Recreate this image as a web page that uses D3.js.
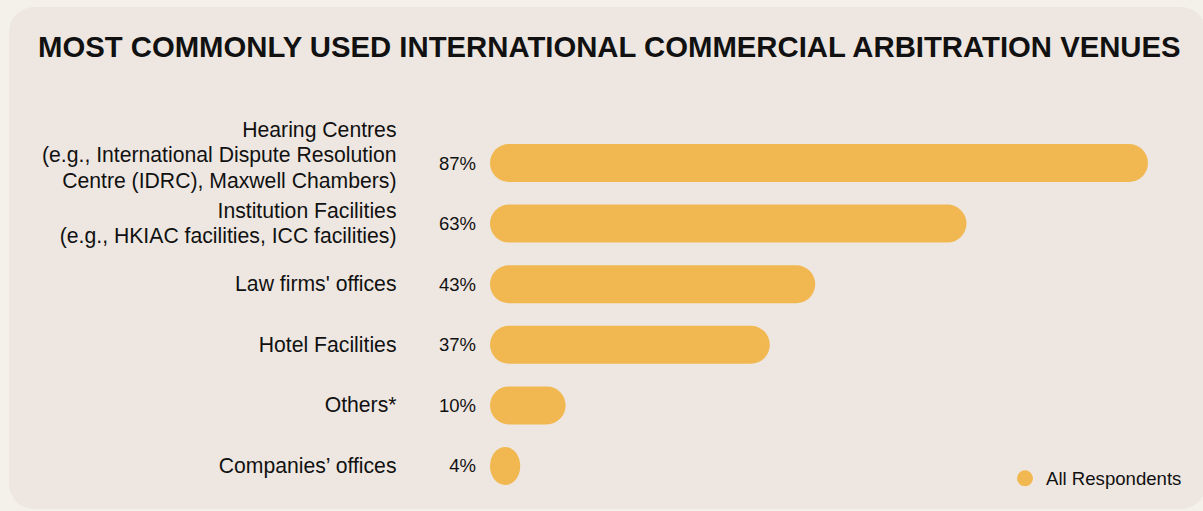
<!DOCTYPE html>
<html>
<head>
<meta charset="utf-8">
<script src="https://cdn.jsdelivr.net/npm/d3@7"></script>
<style>
  html, body { margin: 0; padding: 0; background: #f4f1eb; }
  svg { display: block; }
  text { font-family: "Liberation Sans", Arial, Helvetica, sans-serif; fill: #111; }
</style>
</head>
<body>
<svg id="chart" width="1203" height="511"></svg>
<script>
// Venue categories (label lines) and share of respondents (%)
const categories = [
  "Hearing Centres",
  "Institution Facilities",
  "Law firms' offices",
  "Hotel Facilities",
  "Others*",
  "Companies’ offices"
];
const labelLines = [
  ["Hearing Centres", "(e.g., International Dispute Resolution", "Centre (IDRC), Maxwell Chambers)"],
  ["Institution Facilities", "(e.g., HKIAC facilities, ICC facilities)"],
  ["Law firms' offices"],
  ["Hotel Facilities"],
  ["Others*"],
  ["Companies’ offices"]
];
const values = [87, 63, 43, 37, 10, 4];
const seriesName = "All Respondents";
const title = "MOST COMMONLY USED INTERNATIONAL COMMERCIAL ARBITRATION VENUES";

const barColor = "#f1b851";
const svg = d3.select("#chart");

// Rounded background panel
svg.append("rect")
  .attr("x", 9).attr("y", 7)
  .attr("width", 1197).attr("height", 502)
  .attr("rx", 25).attr("ry", 25)
  .attr("fill", "#eee7e1");

// Title, fitted to its column width
const titleText = svg.append("text")
  .attr("x", 38).attr("y", 57)
  .attr("font-weight", "bold")
  .attr("font-size", 29)
  .text(title);
const tw = titleText.node().getComputedTextLength();
titleText.attr("font-size", 29 * 1143 / tw);

// Scales
const x = d3.scaleLinear().domain([0, 100]).range([490, 1246.3]);
const y = d3.scaleBand()
  .domain(categories)
  .range([121.4, 507.6])
  .paddingInner(0.373)
  .paddingOuter(0.373);

const bh = y.bandwidth();
const rows = svg.append("g").selectAll("g")
  .data(categories)
  .join("g");

// Pill-shaped bars
rows.append("rect")
  .attr("x", x(0))
  .attr("y", d => y(d))
  .attr("width", (d, i) => x(values[i]) - x(0))
  .attr("height", bh)
  .attr("rx", bh / 2).attr("ry", bh / 2)
  .attr("fill", barColor);

// Value labels
rows.append("text")
  .attr("x", 476)
  .attr("y", d => y(d) + bh / 2 + 6.5)
  .attr("text-anchor", "end")
  .attr("font-size", 18.5)
  .attr("fill", "#222")
  .text((d, i) => values[i] + "%");

// Category labels (multi-line, right aligned)
const lineH = 25.5;
rows.append("text")
  .attr("text-anchor", "end")
  .attr("font-size", 21.2)
  .each(function(d, i) {
    const lines = labelLines[i];
    const n = lines.length;
    const shift = n > 2 ? -8 : 0;
    const first = y(d) + bh / 2 + 7 - (n - 1) * lineH / 2 + shift;
    d3.select(this).selectAll("tspan")
      .data(lines)
      .join("tspan")
      .attr("x", 396.5)
      .attr("y", (l, j) => first + j * lineH)
      .text(l => l);
  });

// Legend
const legend = svg.append("g");
legend.append("circle")
  .attr("cx", 1025).attr("cy", 478.3).attr("r", 8)
  .attr("fill", barColor);
legend.append("text")
  .attr("x", 1046).attr("y", 484.5)
  .attr("font-size", 18.6)
  .text(seriesName);
</script>
</body>
</html>
